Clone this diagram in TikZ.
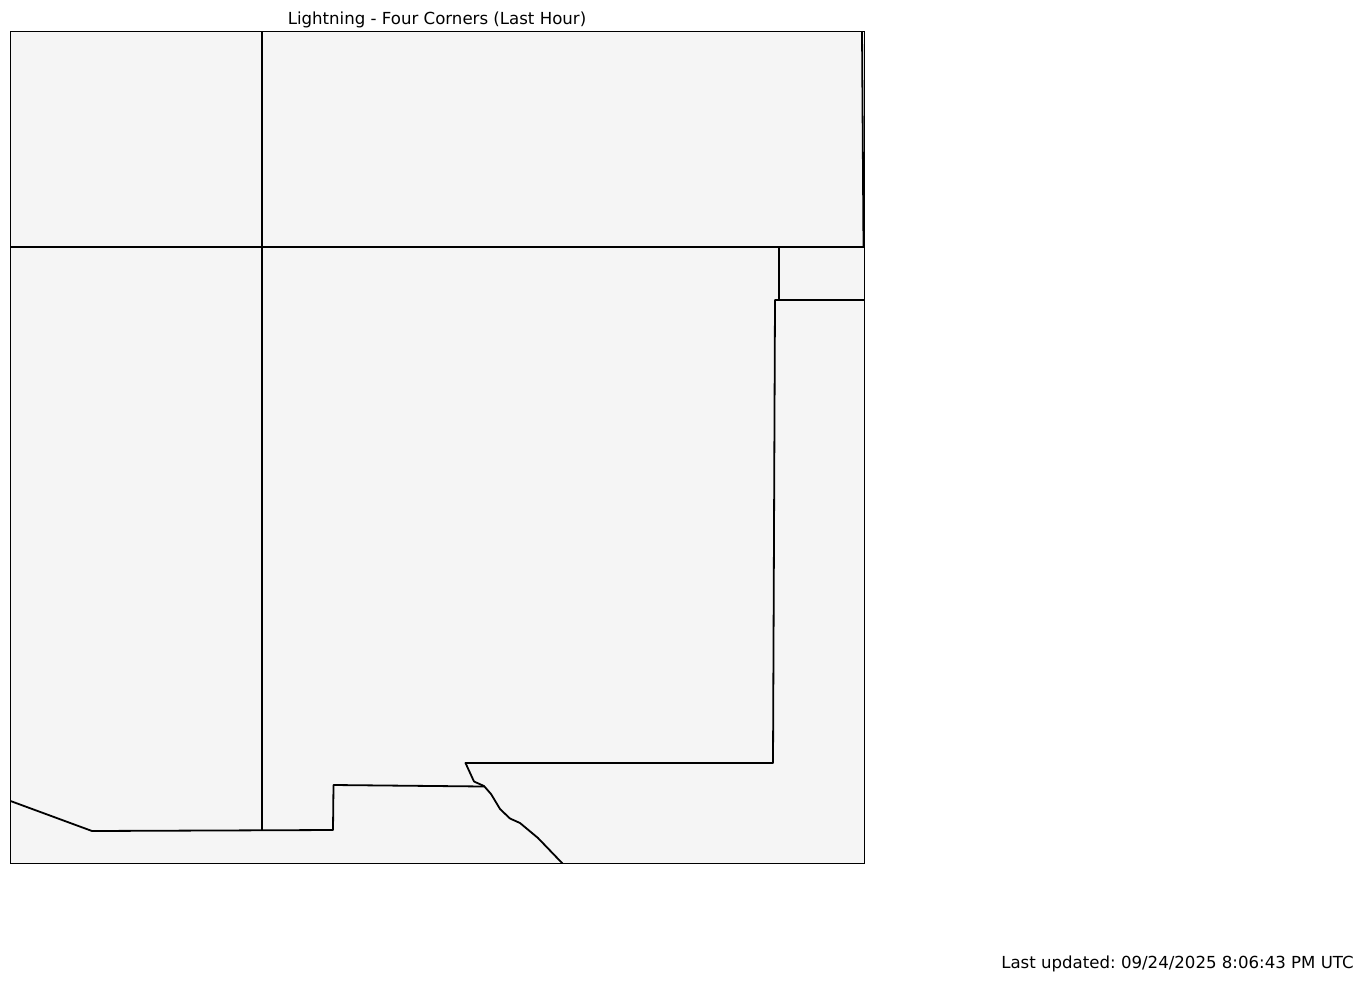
\documentclass[tikz,border=0pt]{standalone}
\usepackage{fontspec}
\setmainfont{DejaVu Sans}
\frenchspacing
\definecolor{mapfill}{HTML}{F5F5F5}
\tikzset{
  border/.style={line width=1.35pt,line cap=round,line join=round},
  frame/.style={draw=black,fill=mapfill,line width=0.65pt},
  lbl/.style={inner sep=0pt,font=\fontsize{12.45pt}{15pt}\selectfont,text=black}
}
\begin{document}
\begin{tikzpicture}[x=0.75pt,y=-0.75pt]
\useasboundingbox (0,0) rectangle (1363,981);
\path[fill=white] (0,0) rectangle (1363,981);
\path[frame] (10.5,31.5) rectangle (864.5,863.5);
\begin{scope}
\clip (10.5,31.5) rectangle (864.5,863.5);
\draw[border] (262.3,31.5) -- (262.3,830);
\draw[border] (10.5,247) -- (863.5,247) -- (862,31.5);
\draw[border] (778.7,247) -- (778.7,300);
\draw[border] (864.5,300) -- (775,300) -- (773,763) -- (465.5,763) -- (474,781.5) -- (484,786) -- (491,794) -- (500,809) -- (510,818.5) -- (520,823) -- (538,838) -- (562.5,863.5);
\draw[border] (10.5,801) -- (92,831) -- (333,830) -- (333.5,785) -- (484,786.5);
\end{scope}
\path[frame,fill=none] (10.5,31.5) rectangle (864.5,863.5);
\node[lbl,anchor=base] (title) at (437,24.8) {Lightning - Four Corners (Last Hour)};
\node[lbl,anchor=base east] (updated) at (1354,968) {Last updated: 09/24/2025 8:06:43 PM UTC};
\end{tikzpicture}
\end{document}
